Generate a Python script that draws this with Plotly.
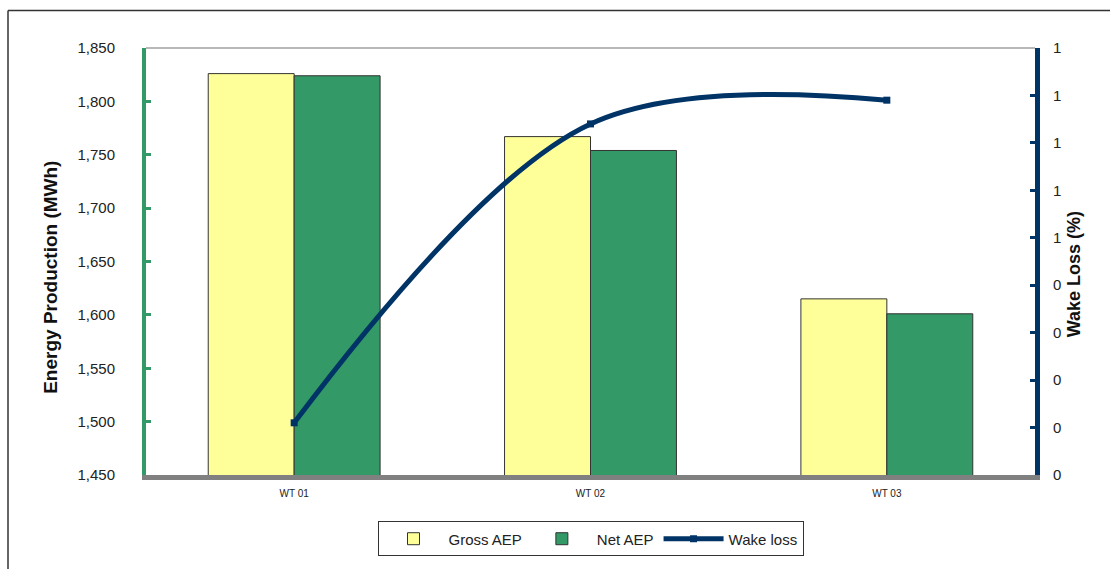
import plotly.graph_objects as go

# Turbine energy yield and wake loss
turbines = ["WT 01", "WT 02", "WT 03"]
gross_aep = [1826, 1767, 1615]   # MWh
net_aep = [1824, 1754, 1601]     # MWh
wake_loss = [0.11, 0.74, 0.79]   # %

left_ticks = [1450, 1500, 1550, 1600, 1650, 1700, 1750, 1800, 1850]
left_ticktext = ["1,450", "1,500", "1,550", "1,600", "1,650", "1,700", "1,750", "1,800", "1,850"]
right_ticks = [0, 0.1, 0.2, 0.3, 0.4, 0.5, 0.6, 0.7, 0.8, 0.9]
right_ticktext = ["0", "0", "0", "0", "0", "1", "1", "1", "1", "1"]

GREEN = "#339966"
YELLOW = "#FFFF99"
NAVY = "#003366"
FONT = "Liberation Sans, Arial, sans-serif"

fig = go.Figure()
fig.add_trace(go.Bar(
    x=turbines, y=gross_aep, name="Gross AEP",
    marker=dict(color=YELLOW, line=dict(color="#333333", width=1)),
))
fig.add_trace(go.Bar(
    x=turbines, y=net_aep, name="Net AEP",
    marker=dict(color=GREEN, line=dict(color="#333333", width=1)),
))
fig.add_trace(go.Scatter(
    x=turbines, y=wake_loss, name="Wake loss", yaxis="y2",
    mode="lines+markers",
    line=dict(color=NAVY, width=5, shape="spline", smoothing=1),
    marker=dict(color=NAVY, size=7, symbol="square"),
))

W, H = 1110, 569
L, R, T, B = 146, 75, 48, 89
pw, ph = W - L - R, H - T - B

def px_x(x):
    return (x - L) / pw

def px_y(y):
    return (H - B - y) / ph

fig.update_layout(
    width=W, height=H,
    margin=dict(l=L, r=R, t=T, b=B),
    paper_bgcolor="white", plot_bgcolor="white",
    font=dict(family=FONT, color="#222222"),
    barmode="group", bargap=0.42, bargroupgap=0,
    showlegend=True,
    legend=dict(
        orientation="h", x=0.5, xanchor="center", y=px_y(527), yanchor="top",
        bordercolor="#333333", borderwidth=1, font=dict(size=15, family=FONT),
        itemwidth=60, traceorder="normal",
    ),
    xaxis=dict(
        showline=True, linecolor="#808080", linewidth=5,
        showgrid=False, ticks="", tickfont=dict(size=10, family=FONT),
        ticklabelstandoff=5,
    ),
    yaxis=dict(
        range=[1450, 1850], tickvals=left_ticks, ticktext=left_ticktext,
        showline=True, linecolor=GREEN, linewidth=4,
        ticks="inside", ticklen=5, tickwidth=3, tickcolor=GREEN,
        showgrid=False, zeroline=False, tickfont=dict(size=15, family=FONT),
        ticklabelstandoff=24,
    ),
    yaxis2=dict(
        range=[0, 0.9], tickvals=right_ticks, ticktext=right_ticktext,
        overlaying="y", side="right", anchor="x",
        showline=True, linecolor=NAVY, linewidth=5,
        ticks="inside", ticklen=5, tickwidth=3, tickcolor=NAVY,
        showgrid=False, zeroline=False, tickfont=dict(size=15, family=FONT),
        ticklabelstandoff=10,
    ),
    shapes=[
        # plot-area top edge
        dict(type="line", xref="paper", yref="paper", x0=0, x1=1, y0=1, y1=1,
             line=dict(color="#A0A0A0", width=1.5), layer="below"),
        # outer chart frame (left and top)
        dict(type="line", xref="paper", yref="paper",
             x0=px_x(8), x1=px_x(8), y0=px_y(10), y1=px_y(575),
             line=dict(color="#333333", width=1.5)),
        dict(type="line", xref="paper", yref="paper",
             x0=px_x(8), x1=px_x(1115), y0=px_y(10), y1=px_y(10),
             line=dict(color="#333333", width=1.5)),
    ],
    annotations=[
        dict(text="<b>Energy Production (MWh)</b>", xref="paper", yref="paper",
             x=px_x(38), y=px_y(280), textangle=-90, showarrow=False,
             font=dict(size=19, family=FONT, color="#111111")),
        dict(text="<b>Wake Loss (%)</b>", xref="paper", yref="paper",
             x=px_x(1086), y=px_y(277), textangle=-90, showarrow=False,
             font=dict(size=18, family=FONT, color="#111111")),
    ],
)

fig.write_html("out.html")
